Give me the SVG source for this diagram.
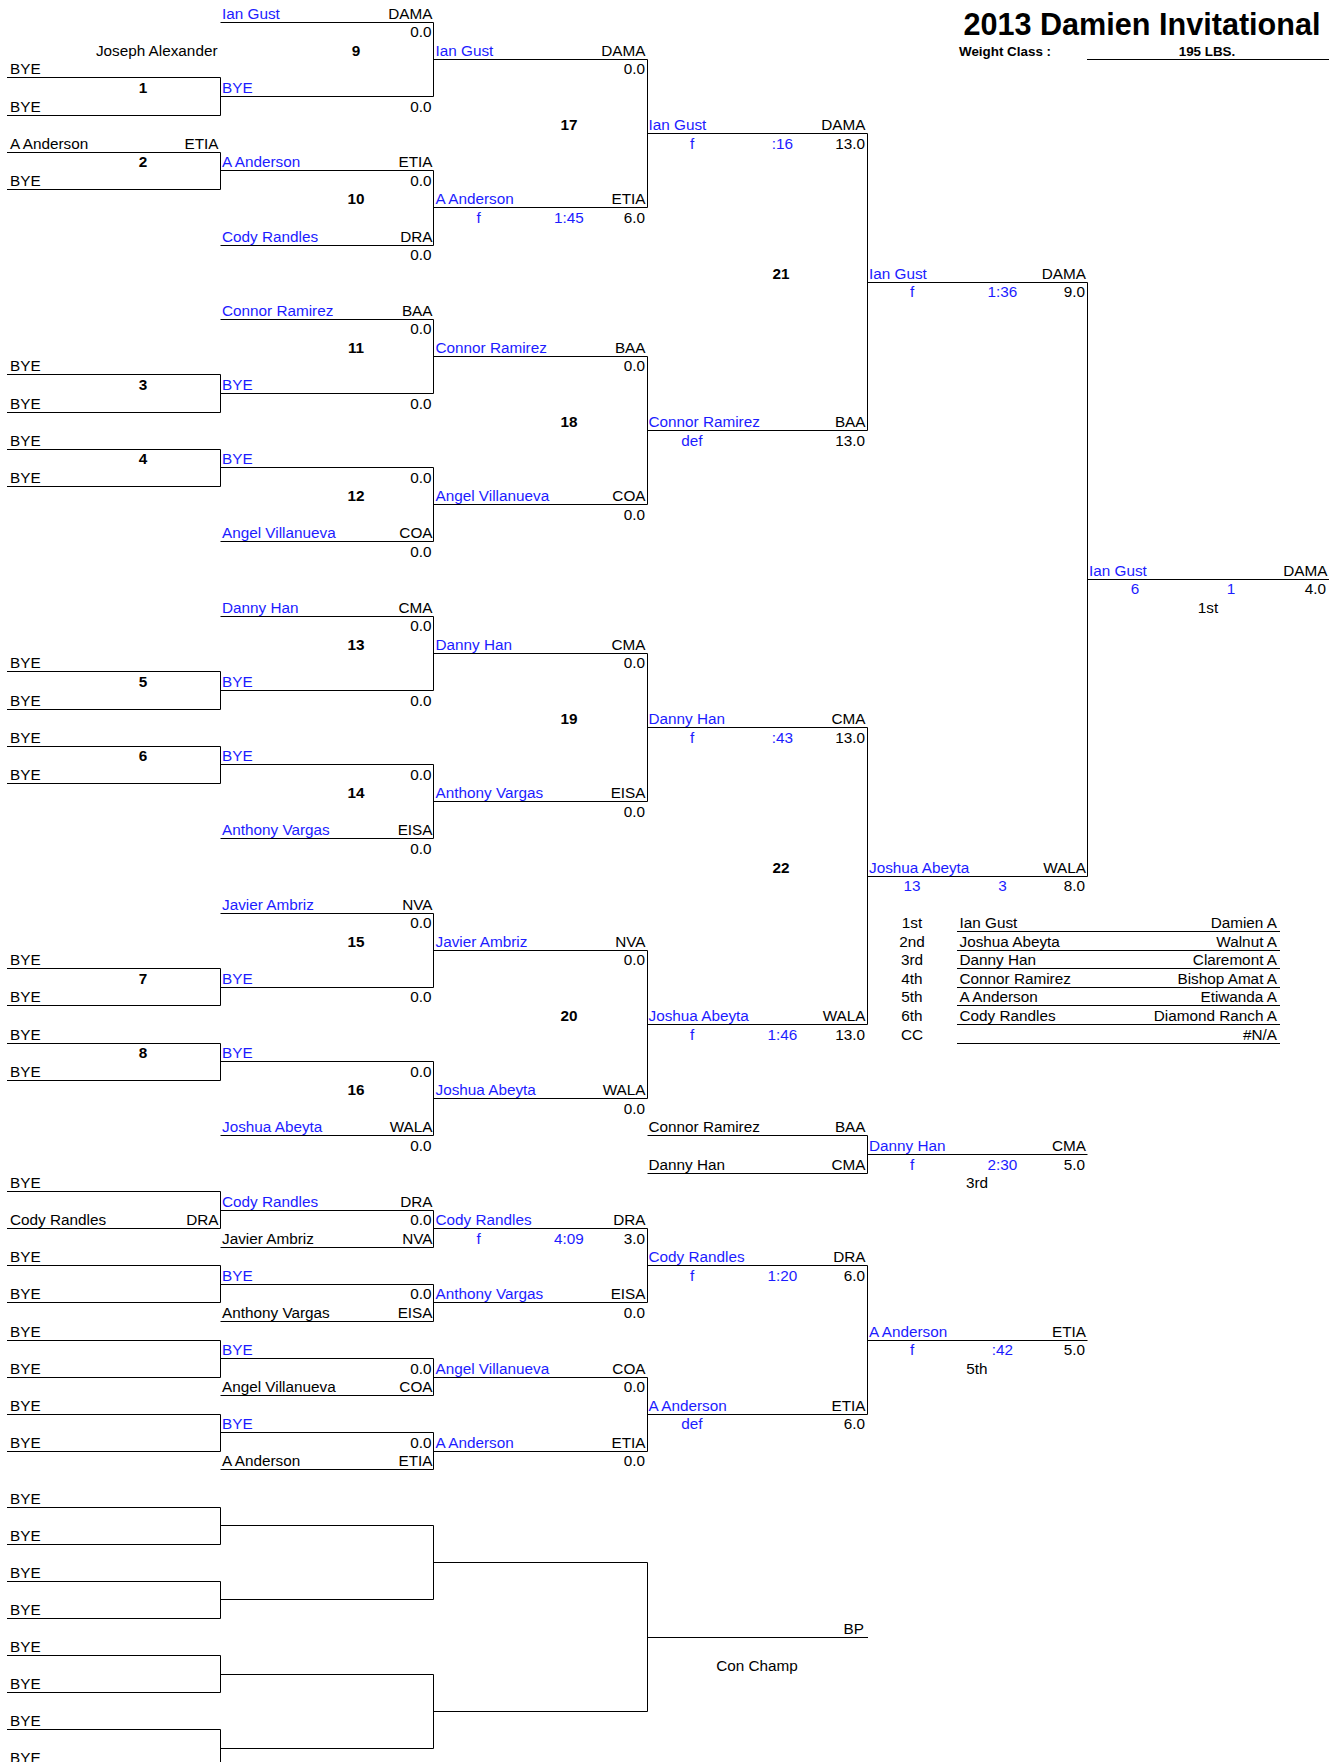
<svg xmlns="http://www.w3.org/2000/svg" width="1343" height="1762" viewBox="0 0 1343 1762">
<style>
text{font-family:"Liberation Sans",Arial,sans-serif;font-size:15.3px;fill:#000}
.u{fill:#1c1cff}
.r{text-anchor:end}
.c{text-anchor:middle}
.k{font-weight:bold}
.ln{stroke:#000;stroke-width:1;fill:none}
</style>
<rect width="1343" height="1762" fill="#fff"/>
<g id="header">
<text class="k r" x="1320.5" y="35" style="font-size:30.6px">2013 Damien Invitational</text>
<text class="k" x="959" y="56" style="font-size:13.4px">Weight Class :</text>
<text class="k c" x="1207" y="56" style="font-size:13.4px">195 LBS.</text>
</g>
<g id="connectors" class="ln">
<path d="M1087 59.5H1329"/>
<path d="M7 77.5H220.5V115.5H7M7 152.5H220.5V189.5H7M7 374.5H220.5V412.5H7M7 449.5H220.5V486.5H7M7 671.5H220.5V709.5H7M7 746.5H220.5V783.5H7M7 968.5H220.5V1005.5H7M7 1043.5H220.5V1080.5H7"/>
<path d="M7 1191.5H220.5V1228.5H7M7 1265.5H220.5V1302.5H7M7 1340.5H220.5V1377.5H7M7 1414.5H220.5V1451.5H7M7 1507.5H220.5V1544.5H7M7 1581.5H220.5V1618.5H7M7 1655.5H220.5V1692.5H7M7 1729.5H220.5V1762"/>
<path d="M220.5 22.5H433.5V96.5H220.5M220.5 170.5H433.5V245.5H220.5M220.5 319.5H433.5V393.5H220.5M220.5 467.5H433.5V541.5H220.5M220.5 616.5H433.5V690.5H220.5M220.5 764.5H433.5V838.5H220.5M220.5 913.5H433.5V987.5H220.5M220.5 1061.5H433.5V1135.5H220.5"/>
<path d="M220.5 1210.5H433.5V1247.5H220.5M220.5 1284.5H433.5V1321.5H220.5M220.5 1358.5H433.5V1395.5H220.5M220.5 1432.5H433.5V1469.5H220.5M220.5 1525.5H433.5V1599.5H220.5M220.5 1674.5H433.5V1748.5H220.5"/>
<path d="M433.5 59.5H647.5V207.5H433.5M433.5 356.5H647.5V504.5H433.5M433.5 653.5H647.5V801.5H433.5M433.5 950.5H647.5V1098.5H433.5"/>
<path d="M433.5 1228.5H647.5V1302.5H433.5M433.5 1377.5H647.5V1451.5H433.5M433.5 1562.5H647.5V1711.5H433.5"/>
<path d="M647.5 133.5H867.5V430.5H647.5M647.5 727.5H867.5V1024.5H647.5M647.5 1135.5H867.5V1173.5H647.5M647.5 1265.5H867.5V1414.5H647.5M647.5 1637.5H868"/>
<path d="M867.5 282.5H1087.5V876.5H867.5M867.5 1154.5H1087.5M867.5 1340.5H1087.5"/>
<path d="M1087.5 579.5H1329"/>
<path d="M957 931.5H1280M957 950.5H1280M957 968.5H1280M957 987.5H1280M957 1005.5H1280M957 1024.5H1280M957 1043.5H1280"/>
</g>
<g id="m1"><text class="r" x="217.5" y="56">Joseph Alexander</text><text x="10" y="74">BYE</text><text class="k c" x="143" y="93">1</text><text x="10" y="112">BYE</text></g>
<g id="m2"><text x="10" y="149">A Anderson</text><text class="r" x="218.5" y="149">ETIA</text><text class="k c" x="143" y="167">2</text><text x="10" y="186">BYE</text></g>
<g id="m3"><text x="10" y="371">BYE</text><text class="k c" x="143" y="390">3</text><text x="10" y="409">BYE</text></g>
<g id="m4"><text x="10" y="446">BYE</text><text class="k c" x="143" y="464">4</text><text x="10" y="483">BYE</text></g>
<g id="m5"><text x="10" y="668">BYE</text><text class="k c" x="143" y="687">5</text><text x="10" y="706">BYE</text></g>
<g id="m6"><text x="10" y="743">BYE</text><text class="k c" x="143" y="761">6</text><text x="10" y="780">BYE</text></g>
<g id="m7"><text x="10" y="965">BYE</text><text class="k c" x="143" y="984">7</text><text x="10" y="1002">BYE</text></g>
<g id="m8"><text x="10" y="1040">BYE</text><text class="k c" x="143" y="1058">8</text><text x="10" y="1077">BYE</text></g>
<g id="m9"><text class="u" x="222" y="19">Ian Gust</text><text class="r" x="432.5" y="19">DAMA</text><text class="r" x="431.5" y="37">0.0</text><text class="k c" x="356" y="56">9</text><text class="u" x="222" y="93">BYE</text><text class="r" x="431.5" y="112">0.0</text></g>
<g id="m10"><text class="u" x="222" y="167">A Anderson</text><text class="r" x="432.5" y="167">ETIA</text><text class="r" x="431.5" y="186">0.0</text><text class="k c" x="356" y="204">10</text><text class="u" x="222" y="242">Cody Randles</text><text class="r" x="432.5" y="242">DRA</text><text class="r" x="431.5" y="260">0.0</text></g>
<g id="m11"><text class="u" x="222" y="316">Connor Ramirez</text><text class="r" x="432.5" y="316">BAA</text><text class="r" x="431.5" y="334">0.0</text><text class="k c" x="356" y="353">11</text><text class="u" x="222" y="390">BYE</text><text class="r" x="431.5" y="409">0.0</text></g>
<g id="m12"><text class="u" x="222" y="464">BYE</text><text class="r" x="431.5" y="483">0.0</text><text class="k c" x="356" y="501">12</text><text class="u" x="222" y="538">Angel Villanueva</text><text class="r" x="432.5" y="538">COA</text><text class="r" x="431.5" y="557">0.0</text></g>
<g id="m13"><text class="u" x="222" y="613">Danny Han</text><text class="r" x="432.5" y="613">CMA</text><text class="r" x="431.5" y="631">0.0</text><text class="k c" x="356" y="650">13</text><text class="u" x="222" y="687">BYE</text><text class="r" x="431.5" y="706">0.0</text></g>
<g id="m14"><text class="u" x="222" y="761">BYE</text><text class="r" x="431.5" y="780">0.0</text><text class="k c" x="356" y="798">14</text><text class="u" x="222" y="835">Anthony Vargas</text><text class="r" x="432.5" y="835">EISA</text><text class="r" x="431.5" y="854">0.0</text></g>
<g id="m15"><text class="u" x="222" y="910">Javier Ambriz</text><text class="r" x="432.5" y="910">NVA</text><text class="r" x="431.5" y="928">0.0</text><text class="k c" x="356" y="947">15</text><text class="u" x="222" y="984">BYE</text><text class="r" x="431.5" y="1002">0.0</text></g>
<g id="m16"><text class="u" x="222" y="1058">BYE</text><text class="r" x="431.5" y="1077">0.0</text><text class="k c" x="356" y="1095">16</text><text class="u" x="222" y="1132">Joshua Abeyta</text><text class="r" x="432.5" y="1132">WALA</text><text class="r" x="431.5" y="1151">0.0</text></g>
<g id="m17"><text class="u" x="435.5" y="56">Ian Gust</text><text class="r" x="645.5" y="56">DAMA</text><text class="r" x="645" y="74">0.0</text><text class="k c" x="569" y="130">17</text><text class="u" x="435.5" y="204">A Anderson</text><text class="r" x="645.5" y="204">ETIA</text><text class="u c" x="478.5" y="223">f</text><text class="u c" x="569" y="223">1:45</text><text class="r" x="645" y="223">6.0</text></g>
<g id="m18"><text class="u" x="435.5" y="353">Connor Ramirez</text><text class="r" x="645.5" y="353">BAA</text><text class="r" x="645" y="371">0.0</text><text class="k c" x="569" y="427">18</text><text class="u" x="435.5" y="501">Angel Villanueva</text><text class="r" x="645.5" y="501">COA</text><text class="r" x="645" y="520">0.0</text></g>
<g id="m19"><text class="u" x="435.5" y="650">Danny Han</text><text class="r" x="645.5" y="650">CMA</text><text class="r" x="645" y="668">0.0</text><text class="k c" x="569" y="724">19</text><text class="u" x="435.5" y="798">Anthony Vargas</text><text class="r" x="645.5" y="798">EISA</text><text class="r" x="645" y="817">0.0</text></g>
<g id="m20"><text class="u" x="435.5" y="947">Javier Ambriz</text><text class="r" x="645.5" y="947">NVA</text><text class="r" x="645" y="965">0.0</text><text class="k c" x="569" y="1021">20</text><text class="u" x="435.5" y="1095">Joshua Abeyta</text><text class="r" x="645.5" y="1095">WALA</text><text class="r" x="645" y="1114">0.0</text></g>
<g id="m21"><text class="u" x="648.5" y="130">Ian Gust</text><text class="r" x="865.5" y="130">DAMA</text><text class="u c" x="692" y="149">f</text><text class="u c" x="782.5" y="149">:16</text><text class="r" x="865" y="149">13.0</text><text class="k c" x="781" y="279">21</text><text class="u" x="648.5" y="427">Connor Ramirez</text><text class="r" x="865.5" y="427">BAA</text><text class="u c" x="692" y="446">def</text><text class="r" x="865" y="446">13.0</text></g>
<g id="m22"><text class="u" x="648.5" y="724">Danny Han</text><text class="r" x="865.5" y="724">CMA</text><text class="u c" x="692" y="743">f</text><text class="u c" x="782.5" y="743">:43</text><text class="r" x="865" y="743">13.0</text><text class="k c" x="781" y="873">22</text><text class="u" x="648.5" y="1021">Joshua Abeyta</text><text class="r" x="865.5" y="1021">WALA</text><text class="u c" x="692" y="1040">f</text><text class="u c" x="782.5" y="1040">1:46</text><text class="r" x="865" y="1040">13.0</text></g>
<g id="final"><text class="u" x="869" y="279">Ian Gust</text><text class="r" x="1086" y="279">DAMA</text><text class="u c" x="912" y="297">f</text><text class="u c" x="1002.5" y="297">1:36</text><text class="r" x="1085" y="297">9.0</text><text class="u" x="869" y="873">Joshua Abeyta</text><text class="r" x="1086" y="873">WALA</text><text class="u c" x="912" y="891">13</text><text class="u c" x="1002.5" y="891">3</text><text class="r" x="1085" y="891">8.0</text></g>
<g id="champion"><text class="u" x="1089" y="576">Ian Gust</text><text class="r" x="1327.5" y="576">DAMA</text><text class="u c" x="1135" y="594">6</text><text class="u c" x="1231" y="594">1</text><text class="r" x="1326" y="594">4.0</text><text class="c" x="1208" y="613">1st</text></g>
<g id="third"><text x="648.5" y="1132">Connor Ramirez</text><text class="r" x="865.5" y="1132">BAA</text><text x="648.5" y="1170">Danny Han</text><text class="r" x="865.5" y="1170">CMA</text><text class="u" x="869" y="1151">Danny Han</text><text class="r" x="1086" y="1151">CMA</text><text class="u c" x="912" y="1170">f</text><text class="u c" x="1002.5" y="1170">2:30</text><text class="r" x="1085" y="1170">5.0</text><text class="c" x="977" y="1188">3rd</text></g>
<g id="cons1"><text x="10" y="1188">BYE</text><text x="10" y="1225">Cody Randles</text><text class="r" x="218.5" y="1225">DRA</text><text x="10" y="1262">BYE</text><text x="10" y="1299">BYE</text><text x="10" y="1337">BYE</text><text x="10" y="1374">BYE</text><text x="10" y="1411">BYE</text><text x="10" y="1448">BYE</text></g>
<g id="cons2"><text class="u" x="222" y="1207">Cody Randles</text><text class="r" x="432.5" y="1207">DRA</text><text class="r" x="431.5" y="1225">0.0</text><text x="222" y="1244">Javier Ambriz</text><text class="r" x="432.5" y="1244">NVA</text><text class="u" x="222" y="1281">BYE</text><text class="r" x="431.5" y="1299">0.0</text><text x="222" y="1318">Anthony Vargas</text><text class="r" x="432.5" y="1318">EISA</text><text class="u" x="222" y="1355">BYE</text><text class="r" x="431.5" y="1374">0.0</text><text x="222" y="1392">Angel Villanueva</text><text class="r" x="432.5" y="1392">COA</text><text class="u" x="222" y="1429">BYE</text><text class="r" x="431.5" y="1448">0.0</text><text x="222" y="1466">A Anderson</text><text class="r" x="432.5" y="1466">ETIA</text></g>
<g id="cons3"><text class="u" x="435.5" y="1225">Cody Randles</text><text class="r" x="645.5" y="1225">DRA</text><text class="u c" x="478.5" y="1244">f</text><text class="u c" x="569" y="1244">4:09</text><text class="r" x="645" y="1244">3.0</text><text class="u" x="435.5" y="1299">Anthony Vargas</text><text class="r" x="645.5" y="1299">EISA</text><text class="r" x="645" y="1318">0.0</text><text class="u" x="435.5" y="1374">Angel Villanueva</text><text class="r" x="645.5" y="1374">COA</text><text class="r" x="645" y="1392">0.0</text><text class="u" x="435.5" y="1448">A Anderson</text><text class="r" x="645.5" y="1448">ETIA</text><text class="r" x="645" y="1466">0.0</text></g>
<g id="cons4"><text class="u" x="648.5" y="1262">Cody Randles</text><text class="r" x="865.5" y="1262">DRA</text><text class="u c" x="692" y="1281">f</text><text class="u c" x="782.5" y="1281">1:20</text><text class="r" x="865" y="1281">6.0</text><text class="u" x="648.5" y="1411">A Anderson</text><text class="r" x="865.5" y="1411">ETIA</text><text class="u c" x="692" y="1429">def</text><text class="r" x="865" y="1429">6.0</text></g>
<g id="fifth"><text class="u" x="869" y="1337">A Anderson</text><text class="r" x="1086" y="1337">ETIA</text><text class="u c" x="912" y="1355">f</text><text class="u c" x="1002.5" y="1355">:42</text><text class="r" x="1085" y="1355">5.0</text><text class="c" x="977" y="1374">5th</text></g>
<g id="conchamp"><text x="10" y="1504">BYE</text><text x="10" y="1541">BYE</text><text x="10" y="1578">BYE</text><text x="10" y="1615">BYE</text><text x="10" y="1652">BYE</text><text x="10" y="1689">BYE</text><text x="10" y="1726">BYE</text><text x="10" y="1763">BYE</text><text class="r" x="864" y="1634">BP</text><text class="c" x="757" y="1671">Con Champ</text></g>
<g id="standings">
<text class="c" x="912" y="928">1st</text><text x="959.5" y="928">Ian Gust</text><text class="r" x="1277" y="928">Damien A</text>
<text class="c" x="912" y="947">2nd</text><text x="959.5" y="947">Joshua Abeyta</text><text class="r" x="1277" y="947">Walnut A</text>
<text class="c" x="912" y="965">3rd</text><text x="959.5" y="965">Danny Han</text><text class="r" x="1277" y="965">Claremont A</text>
<text class="c" x="912" y="984">4th</text><text x="959.5" y="984">Connor Ramirez</text><text class="r" x="1277" y="984">Bishop Amat A</text>
<text class="c" x="912" y="1002">5th</text><text x="959.5" y="1002">A Anderson</text><text class="r" x="1277" y="1002">Etiwanda A</text>
<text class="c" x="912" y="1021">6th</text><text x="959.5" y="1021">Cody Randles</text><text class="r" x="1277" y="1021">Diamond Ranch A</text>
<text class="c" x="912" y="1040">CC</text><text class="r" x="1277" y="1040">#N/A</text>
</g>
</svg>
